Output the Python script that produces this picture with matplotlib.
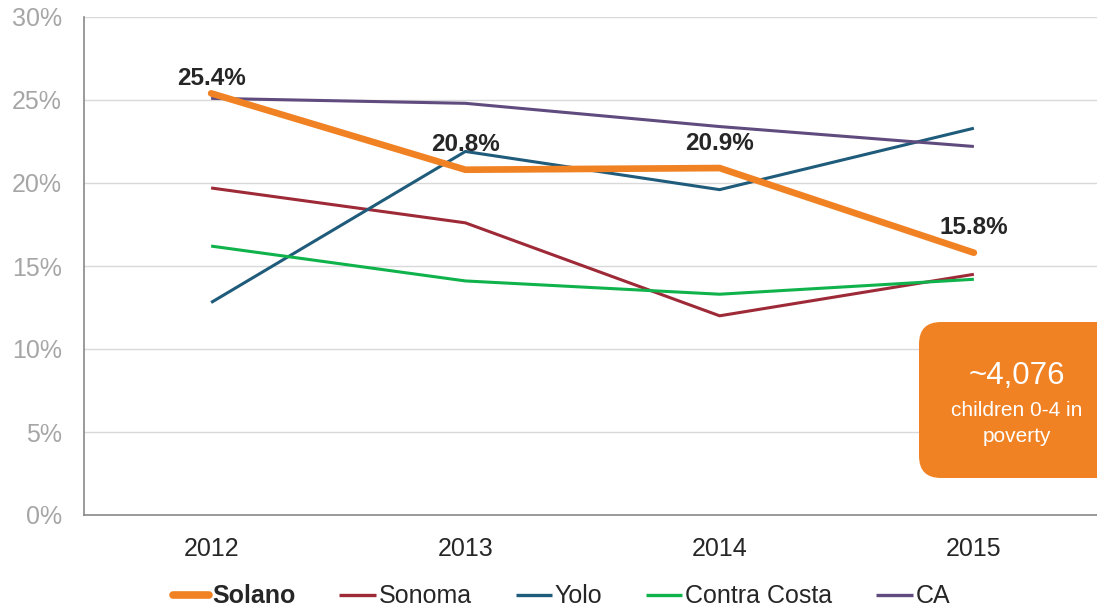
import matplotlib
matplotlib.use("Agg")
import matplotlib.pyplot as plt
from matplotlib.patches import FancyBboxPatch
from matplotlib.lines import Line2D

# ---------- data ----------
YEARS = ["2012", "2013", "2014", "2015"]
SOLANO = [25.4, 20.8, 20.9, 15.8]
SONOMA = [19.7, 17.6, 12.0, 14.5]
YOLO = [12.8, 21.9, 19.6, 23.3]
CONTRA_COSTA = [16.2, 14.1, 13.3, 14.2]
CA = [25.1, 24.8, 23.4, 22.2]
Y_TICKS = [0, 5, 10, 15, 20, 25, 30]

# ---------- palette ----------
ORANGE = "#F08224"
SONOMA_C = "#9E2A38"
YOLO_C = "#1F5B7B"
CC_C = "#10B24C"
CA_C = "#5F4B7E"
INK = "#262626"
TICK_GRAY = "#A6A6A6"
GRID = "#D9D9D9"
SPINE = "#898989"

FONT = "Liberation Sans"
FS = 18

fig = plt.figure(figsize=(10.97, 6.11), dpi=100)
ax = fig.add_axes([84 / 1097, 96 / 611, 1017 / 1097, 498 / 611])

x = list(range(len(YEARS)))
series = [
    ("Solano", SOLANO, ORANGE),
    ("Sonoma", SONOMA, SONOMA_C),
    ("Yolo", YOLO, YOLO_C),
    ("Contra Costa", CONTRA_COSTA, CC_C),
    ("CA", CA, CA_C),
]
# thin lines first, Solano on top
for name, vals, color in series[1:]:
    ax.plot(x, vals, color=color, linewidth=2.2, zorder=3, solid_capstyle="butt")
ax.plot(x, SOLANO, color=ORANGE, linewidth=4.8, zorder=4,
        solid_capstyle="round", solid_joinstyle="round")

# label offsets (points above each Solano point)
label_dy = [11, 18, 18, 18]
for xi, v, dy in zip(x, SOLANO, label_dy):
    ax.annotate(f"{v:.1f}%", (xi, v), xytext=(0, dy), textcoords="offset points",
                ha="center", va="center", fontsize=17.5, fontweight="bold",
                color=INK, family=FONT, zorder=5)

ax.set_xlim(-0.5, 3.5)
ax.set_ylim(0, 30)
ax.set_yticks(Y_TICKS)
ax.set_yticklabels([f"{t}%" for t in Y_TICKS])
ax.set_xticks(x)
ax.set_xticklabels(YEARS)
ax.grid(axis="y", color=GRID, linewidth=1.0, zorder=0)
ax.set_axisbelow(True)
for s in ("top", "right"):
    ax.spines[s].set_visible(False)
for s in ("left", "bottom"):
    ax.spines[s].set_color(SPINE)
    ax.spines[s].set_linewidth(1.2)
ax.tick_params(axis="both", length=0)
ax.tick_params(axis="y", pad=16)
ax.tick_params(axis="x", pad=16)
for t in ax.get_yticklabels():
    t.set_fontfamily(FONT)
    t.set_fontsize(FS)
    t.set_color(TICK_GRAY)
for t in ax.get_xticklabels():
    t.set_fontfamily(FONT)
    t.set_fontsize(FS)
    t.set_color(INK)

# ---------- legend ----------
handles = [Line2D([], [], color=c, linewidth=(5.5 if n == "Solano" else 2.4),
                  solid_capstyle="round" if n == "Solano" else "butt")
           for n, _, c in series]
labels = [n for n, _, _ in series]
leg = fig.legend(handles, labels, loc="center", bbox_to_anchor=(0.512, 0.024),
                 ncol=5, frameon=False, handlelength=1.45, handletextpad=0.12,
                 columnspacing=1.75, prop={"family": FONT, "size": FS})
for t in leg.get_texts():
    t.set_color(INK)
leg.get_texts()[0].set_fontweight("bold")

# ---------- callout box ----------
box = FancyBboxPatch((9.19, 1.33), 2.2, 1.56,
                     boxstyle="round,pad=0,rounding_size=0.22",
                     transform=fig.dpi_scale_trans, facecolor=ORANGE,
                     edgecolor="none", zorder=6)
fig.patches.append(box)
fig.text(1017 / 1097, 1 - 376 / 611, "~4,076", ha="center", va="center",
         fontsize=22.5, color="white", family=FONT, zorder=7)
fig.text(1017 / 1097, 1 - 411 / 611, "children 0-4 in", ha="center", va="center",
         fontsize=15, color="white", family=FONT, zorder=7)
fig.text(1017 / 1097, 1 - 436 / 611, "poverty", ha="center", va="center",
         fontsize=15, color="white", family=FONT, zorder=7)

fig.savefig("out.png", dpi=100)
